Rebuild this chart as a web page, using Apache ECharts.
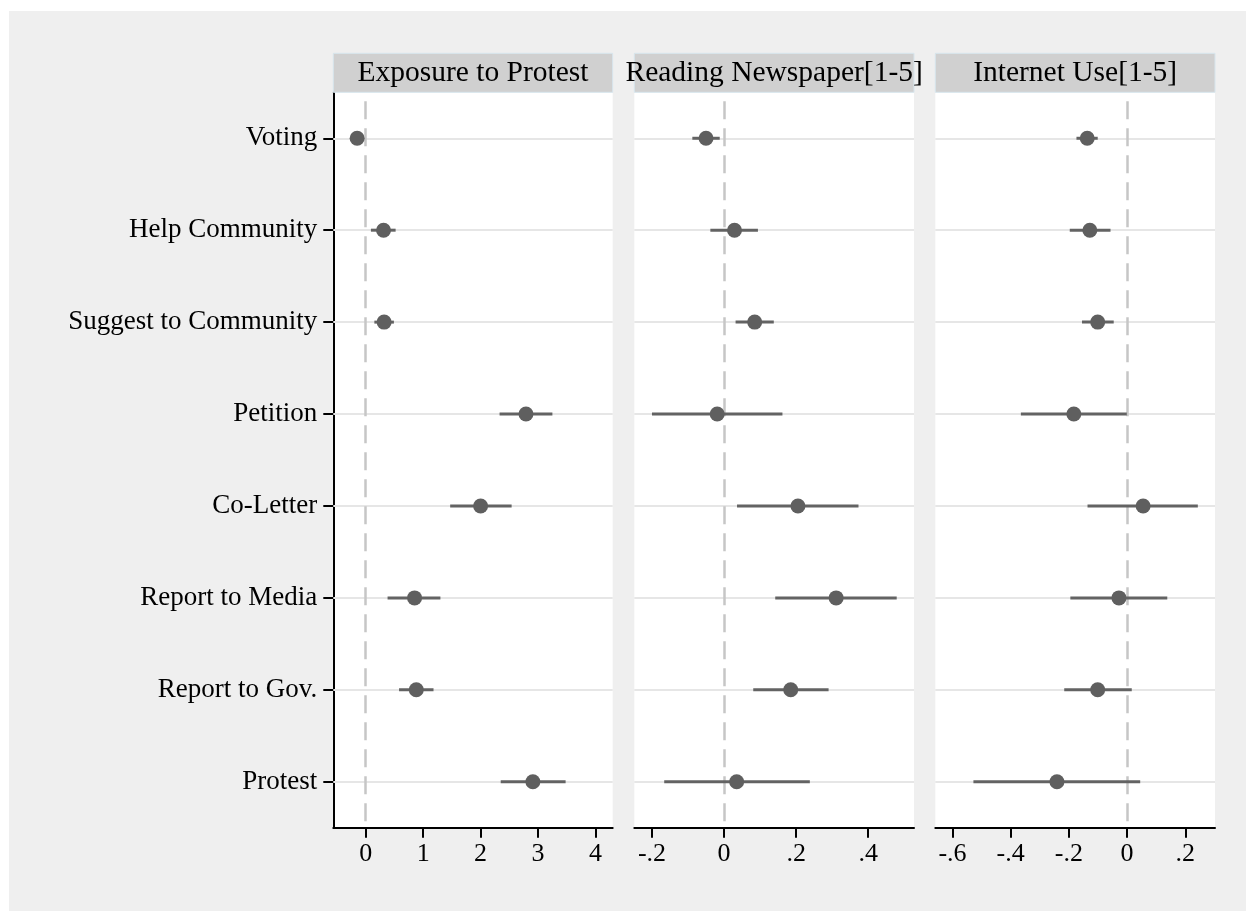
<!DOCTYPE html>
<html><head><meta charset="utf-8">
<script src="https://cdn.jsdelivr.net/npm/echarts@6/dist/echarts.min.js"></script>
<style>
html,body{margin:0;padding:0;background:#fff}
#bg{position:absolute;left:9px;top:11px;width:1237px;height:900px;background:#efefef}
#c{position:absolute;left:0;top:0;width:1246px;height:911px}
</style>
</head><body><div id="bg"></div><div id="c"></div>
<script>
const categories = ['Voting','Help Community','Suggest to Community','Petition','Co-Letter','Report to Media','Report to Gov.','Protest'];
const panelTitles = ['Exposure to Protest','Reading Newspaper[1-5]','Internet Use[1-5]'];

const protestEst = [-0.15, 0.31, 0.32, 2.79, 2.00, 0.85, 0.88, 2.91];
const protestLo  = [-0.21, 0.09, 0.15, 2.33, 1.47, 0.38, 0.58, 2.35];
const protestHi  = [-0.09, 0.52, 0.49, 3.25, 2.54, 1.30, 1.18, 3.48];

const paperEst = [-0.050, 0.029, 0.085, -0.019, 0.205, 0.311, 0.185, 0.035];
const paperLo  = [-0.088, -0.038, 0.032, -0.200, 0.036, 0.142, 0.081, -0.166];
const paperHi  = [-0.012, 0.094, 0.138, 0.162, 0.373, 0.479, 0.290, 0.238];

const netEst = [-0.137, -0.128, -0.101, -0.183, 0.055, -0.028, -0.101, -0.241];
const netLo  = [-0.174, -0.197, -0.155, -0.365, -0.136, -0.195, -0.216, -0.528];
const netHi  = [-0.101, -0.057, -0.046, -0.001, 0.243, 0.138, 0.016, 0.045];

const ticks1 = [0, 1, 2, 3, 4];
const ticks2 = [-0.2, 0, 0.2, 0.4];
const ticks3 = [-0.6, -0.4, -0.2, 0, 0.2];

const xRanges = [[-0.565, 4.30], [-0.249, 0.527], [-0.659, 0.302]];

const panels = [
  {est: protestEst, lo: protestLo, hi: protestHi, ticks: ticks1},
  {est: paperEst, lo: paperLo, hi: paperHi, ticks: ticks2},
  {est: netEst, lo: netLo, hi: netHi, ticks: ticks3}
];

const layout = [{left: 333.3, width: 279.4}, {left: 634.3, width: 279.7}, {left: 935.3, width: 279.7}];
const gridTop = 92.3, gridHeight = 735.4, headerTop = 53.3, headerH = 39;
const FONT = '"Liberation Serif", "Times New Roman", serif';

function fmt(v) {
  if (Math.abs(v) < 1e-9) return '0';
  let s = String(Math.round(v * 1000) / 1000);
  s = s.replace(/^0\./, '.').replace(/^-0\./, '-.');
  return s;
}

const grid = [], xAxis = [], yAxis = [], series = [], graphic = [];
panels.forEach((p, k) => {
  grid.push({left: layout[k].left, top: gridTop, width: layout[k].width, height: gridHeight,
    show: true, backgroundColor: '#fff', borderWidth: 0, containLabel: false});
  xAxis.push({type: 'value', gridIndex: k, min: xRanges[k][0], max: xRanges[k][1],
    axisLine: {show: true, onZero: false, lineStyle: {color: '#000', width: 2}},
    axisTick: {show: true, length: 10, customValues: p.ticks, lineStyle: {color: '#000', width: 2}},
    axisLabel: {show: true, customValues: p.ticks, formatter: fmt, fontFamily: FONT, fontSize: 26, color: '#000', margin: 13},
    splitLine: {show: false}});
  yAxis.push({type: 'category', gridIndex: k, data: categories, inverse: true, show: k === 0,
    axisLine: {show: k === 0, onZero: false, lineStyle: {color: '#000', width: 2}},
    axisTick: {show: k === 0, alignWithLabel: true, length: 10, lineStyle: {color: '#000', width: 2}},
    axisLabel: {show: k === 0, fontFamily: FONT, fontSize: 27, color: '#000', margin: 16},
    splitLine: {show: false}});
  const ciData = categories.map((c, i) => [p.lo[i], p.hi[i], i]);
  series.push({
    type: 'custom', xAxisIndex: k, yAxisIndex: k, data: ciData, z: 3, silent: true,
    encode: {x: [0, 1], y: 2},
    renderItem: function (params, api) {
      const a = api.coord([api.value(0), api.value(2)]);
      const b = api.coord([api.value(1), api.value(2)]);
      return {type: 'line', shape: {x1: a[0], y1: a[1], x2: b[0], y2: b[1]},
        style: {stroke: '#636363', lineWidth: 3}};
    }
  });
  series.push({
    type: 'scatter', xAxisIndex: k, yAxisIndex: k, z: 4, symbol: 'circle', symbolSize: 15,
    itemStyle: {color: '#5f5f5f', opacity: 1},
    data: categories.map((c, i) => [p.est[i], i]),
    markLine: {
      silent: true, symbol: ['none', 'none'], label: {show: false}, animation: false, z: 1,
      data: categories.map((c, i) => ({yAxis: i, lineStyle: {color: '#e6e6e6', width: 2, type: 'solid'}}))
        .concat([{xAxis: 0, lineStyle: {color: '#c6c6c6', width: 2.5, type: [18, 9], dashOffset: 18}}])
    }
  });
  graphic.push({type: 'rect', shape: {x: layout[k].left, y: headerTop, width: layout[k].width, height: headerH},
    style: {fill: '#d0d0d0', stroke: '#d8e6ee', lineWidth: 1}, z: 10});
  graphic.push({type: 'text', x: layout[k].left + layout[k].width / 2, y: headerTop + headerH / 2,
    style: {text: panelTitles[k], fontFamily: FONT, fontSize: 29.5, fill: '#000', align: 'center', verticalAlign: 'middle'}, z: 11});
});

const chart = echarts.init(document.getElementById('c'), null, {renderer: 'canvas'});
chart.setOption({
  backgroundColor: 'transparent',
  animation: false,
  grid, xAxis, yAxis, series, graphic
});
</script>
</body></html>
